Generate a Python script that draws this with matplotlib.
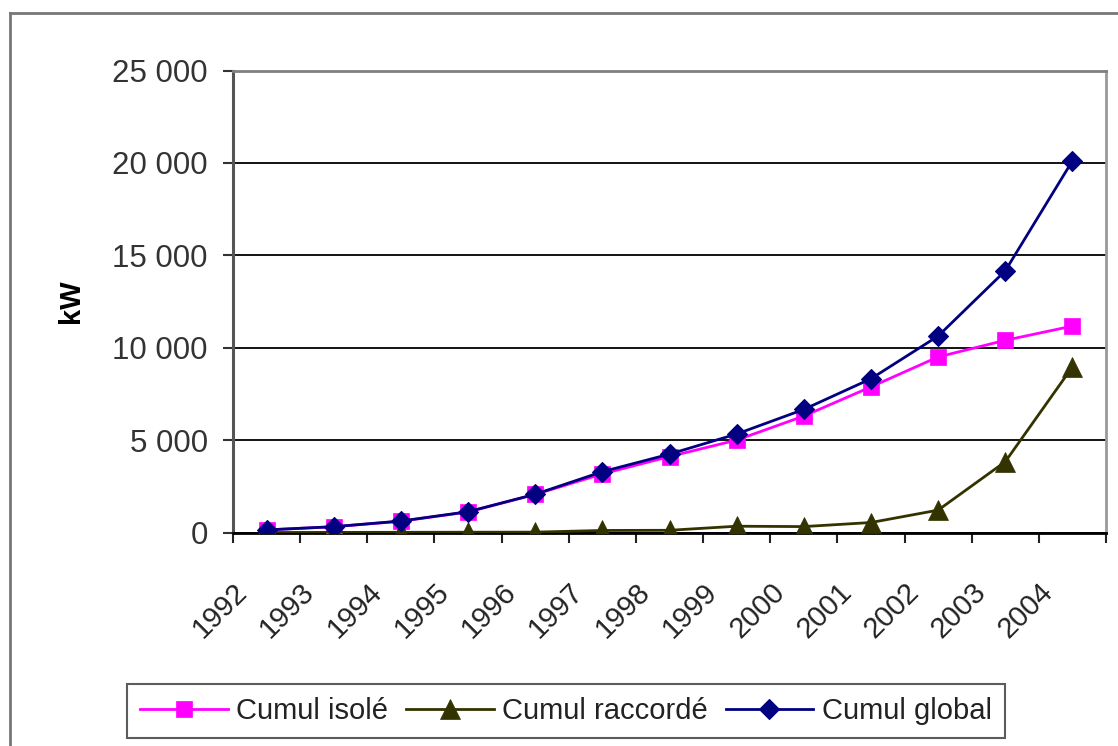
import matplotlib.pyplot as plt
from matplotlib.lines import Line2D
from matplotlib.transforms import ScaledTranslation

plt.rcParams['font.family'] = ['Liberation Sans', 'DejaVu Sans']

# Puissance photovoltaïque cumulée (kW)
annees = ['1992', '1993', '1994', '1995', '1996', '1997', '1998',
          '1999', '2000', '2001', '2002', '2003', '2004']
cumul_isole = [140, 310, 610, 1110, 2060, 3170, 4110, 5000, 6300, 7880, 9500, 10400, 11170]
cumul_raccorde = [0, 5, 10, 15, 20, 110, 120, 340, 320, 540, 1210, 3830, 8960]
cumul_global = [140, 315, 620, 1125, 2070, 3290, 4240, 5330, 6660, 8320, 10630, 14160, 20110]

fig = plt.figure(figsize=(11.18, 7.46), dpi=100)
ax = fig.add_axes([233 / 1118, 1 - 532.5 / 746, 873 / 1118, 462 / 746])

x = [i + 0.5 for i in range(len(annees))]
ax.plot(x, cumul_isole, color='#ff00ff', lw=2, marker='s', ms=12,
        mec='#ff00ff', mew=0.5, label='Cumul isolé', zorder=3)
ax.plot(x, cumul_raccorde, color='#333300', lw=2, marker='^', ms=14,
        mec='#333300', mew=0.5, label='Cumul raccordé', zorder=4)
ax.plot(x, cumul_global, color='#000080', lw=2, marker='D', ms=10,
        mec='#000080', mew=0.8, label='Cumul global', zorder=5)

ax.set_xlim(0, len(annees))
ax.set_ylim(0, 25000)
ax.set_yticks(range(0, 25001, 5000))
ax.set_yticklabels([f'{v:,}'.replace(',', ' ') for v in range(0, 25001, 5000)],
                   fontsize=22.5, color='#333333')
ax.set_xticks(range(len(annees) + 1))
ax.set_xticklabels(annees + [''], fontsize=21, color='#222222')

ax.tick_params(axis='y', length=7, width=1.5, pad=11, color='#333333')
ax.tick_params(axis='x', length=7, width=1.5, pad=33, color='#222222')
plt.setp(ax.get_xticklabels(), rotation=45, ha='right', va='center',
         rotation_mode='anchor')
for lab in ax.get_xticklabels():
    lab.set_transform(lab.get_transform() + ScaledTranslation(0.1, 0, fig.dpi_scale_trans))

ax.grid(axis='y', color='black', lw=1.3)
ax.spines['left'].set_color('#555555')
ax.spines['left'].set_linewidth(2.2)
ax.spines['bottom'].set_color('black')
ax.spines['bottom'].set_linewidth(2)
ax.spines['right'].set_color('#999999')
ax.spines['right'].set_linewidth(2)
ax.spines['top'].set_color('#808080')
ax.spines['top'].set_linewidth(2)

ax.set_ylabel('kW', fontsize=21, fontweight='bold')
ax.yaxis.set_label_coords(-0.1695, 0.5)

fig.legend(loc='center', bbox_to_anchor=(566 / 1118, 1 - 711 / 746), ncol=3,
           fontsize=21, frameon=True, fancybox=False, edgecolor='#333333',
           handlelength=3.0, handletextpad=0.3, columnspacing=0.6,
           borderpad=0.45, borderaxespad=0)
fig.legends[0].get_frame().set_linewidth(1.5)
for t in fig.legends[0].get_texts():
    t.set_color('#222222')

# cadre extérieur
fig.add_artist(Line2D([10 / 1118, 10 / 1118], [0, 1 - 13 / 746], color='#777777', lw=2))
fig.add_artist(Line2D([10 / 1118, 1], [1 - 13 / 746, 1 - 13 / 746], color='#777777', lw=2))

plt.savefig('out.png', dpi=100)
